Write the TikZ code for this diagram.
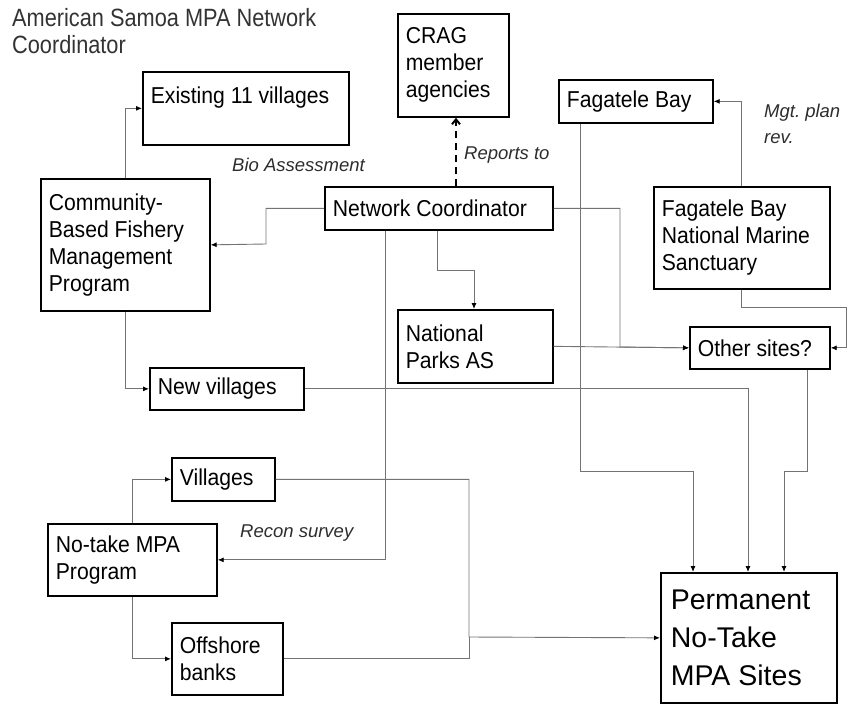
\documentclass[tikz,border=0pt]{standalone}
\usepackage{fontspec}
\setmainfont{Liberation Sans}
\newfontfamily\boxfont[FakeStretch=0.92]{Liberation Sans}
\newfontfamily\titlefont[FakeStretch=0.87]{Liberation Sans}
\frenchspacing
\usetikzlibrary{arrows.meta}
\definecolor{linkgray}{RGB}{115,115,115}
\definecolor{labelgray}{RGB}{45,45,45}

\begin{document}
\begin{tikzpicture}[
    x=1pt, y=-1pt,
    box/.style={rectangle, draw, line width=1.7pt, anchor=north west, align=left, inner xsep=8pt, inner ysep=0pt, font=\boxfont\fontsize{23}{27}\selectfont, execute at begin node={\spaceskip=0pt\xspaceskip=0pt}},
    bigbox/.style={box, inner xsep=10pt, font=\fontsize{28.5}{38}\selectfont},
    lbl/.style={inner sep=0pt, font=\fontsize{18.5}{26}\selectfont\itshape, text=labelgray, align=left},
    link/.style={draw=linkgray, line width=0.9pt, -{Latex[length=6pt, width=5pt, color=black]}},
    plain/.style={draw=linkgray, line width=0.9pt},
    report/.style={draw=black, line width=2pt, dash pattern=on 7pt off 5pt, -{Straight Barb[length=5pt, width=8pt]}}
  ]
    \useasboundingbox (0,0) rectangle (849,704);

    \node[inner sep=0pt, anchor=north west, align=left, text=black!80, font=\titlefont\fontsize{25}{27}\selectfont] (title) at (12,8) {American Samoa MPA Network\\Coordinator};

    \node[box, text width=190pt, minimum height=73pt] (exist) at (142,71) {Existing 11 villages\\\mbox{}};
    \node[box, text width=95pt, minimum height=103pt] (crag) at (397,13) {CRAG\\member\\agencies};
    \node[box, text width=138pt, minimum height=43pt] (fagbay) at (558,79) {Fagatele Bay};
    \node[box, text width=212pt, minimum height=43pt] (netco) at (324,186) {Network Coordinator};
    \node[box, text width=153pt, minimum height=132pt] (cbfmp) at (40,178) {Community-\\Based Fishery\\Management\\Program};
    \node[box, text width=160pt, minimum height=102pt] (sanct) at (653,186) {Fagatele Bay\\National Marine\\Sanctuary};
    \node[box, text width=139pt, minimum height=73pt] (parks) at (397,309) {National\\Parks AS};
    \node[box, text width=124pt, minimum height=42pt] (other) at (689,326) {Other sites?};
    \node[box, text width=138pt, minimum height=42pt] (newvil) at (149,367) {New villages};
    \node[box, text width=87pt, minimum height=43pt] (vil) at (171,457) {Villages};
    \node[box, text width=153pt, minimum height=72pt] (notake) at (47,523) {No-take MPA\\Program};
    \node[box, text width=95pt, minimum height=72pt] (banks) at (171,622) {Offshore\\banks};
    \node[bigbox, text width=156pt, minimum height=130pt] (perm) at (660,572) {Permanent\\No-Take\\MPA Sites};

    % labels
    \node[lbl, anchor=west] (bio) at (232,165) {Bio Assessment};
    \node[lbl, anchor=west] (rep) at (464,155) {Reports to};
    \node[lbl, anchor=north west] (mgt) at (764,104) {Mgt. plan\\rev.};
    \node[lbl, anchor=west] (recon) at (240,533) {Recon survey};

    % connectors
    \draw[report] (netco.north -| 456,0) -- (crag.south -| 456,0);
    \draw[link] (cbfmp.north) |- (exist.west);
    \draw[link] (netco.west) -| (266,244) -- (cbfmp.east);
    \draw[link] (cbfmp.south) |- (newvil.west);
    \draw[link] (netco.south -| 437,0) |- (474,270) -- (parks.north -| 474,0);
    \draw[link] (netco.east) -| (620,347) -- (other.west);
    \draw[link] (parks.east) -- (other.west);
    \draw[link] (sanct.north -| 741,0) |- (fagbay.east);
    \draw[link] (sanct.south -| 741,0) |- (846,307) |- (other.east);
    \draw[link] (fagbay.south -| 580,0) |- (693,471) -- (perm.north -| 693,0);
    \draw[link] (newvil.east) -| (perm.north -| 748,0);
    \draw[link] (other.south -| 807,0) |- (784,471) -- (perm.north -| 784,0);
    \draw[link] (netco.south -| 385,0) |- (notake.east);
    \draw[link] (notake.north) |- (vil.west);
    \draw[link] (notake.south) |- (banks.west);
    \draw[link] (vil.east) -| (469,637) -- (perm.west);
    \draw[plain] (banks.east) -| (469,637);
  \end{tikzpicture}
\end{document}
